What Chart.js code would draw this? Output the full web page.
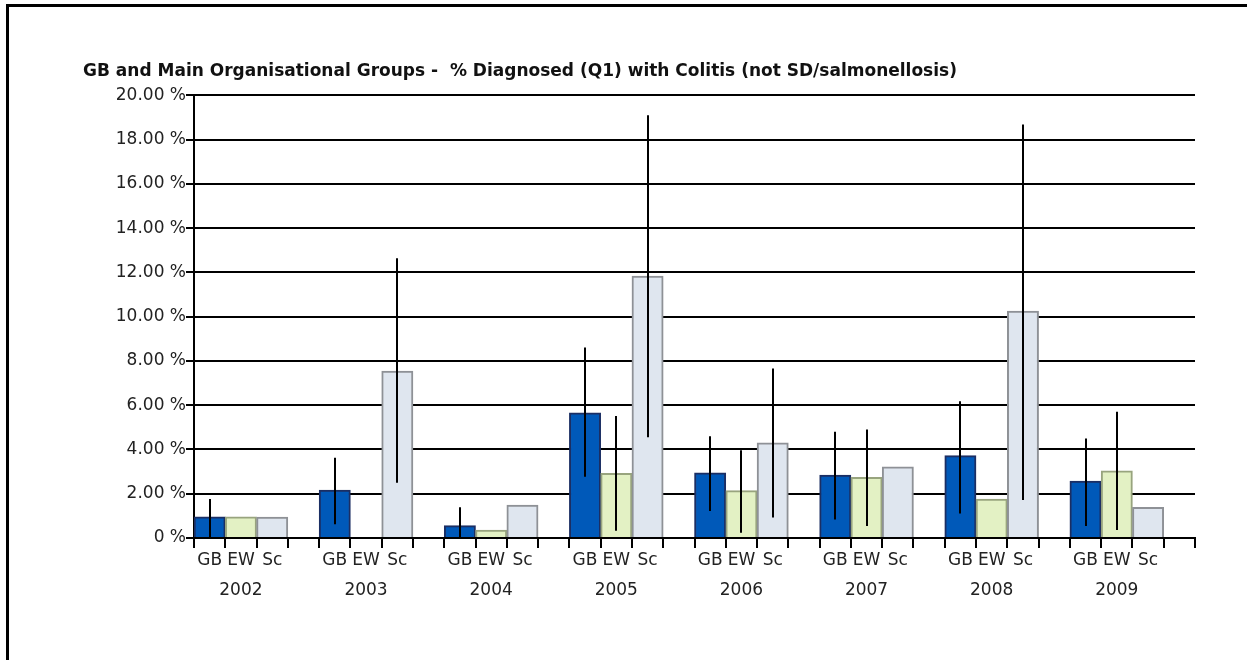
<!DOCTYPE html>
<html>
<head>
<meta charset="utf-8">
<script src="https://cdn.jsdelivr.net/npm/chart.js@4"></script>
<style>
  html, body { margin: 0; padding: 0; background: #fff; }
  #wrap { position: relative; width: 1247px; height: 660px; }
  #frame {
    position: absolute; left: 6px; top: 4px; right: 0; bottom: 0;
    border-top: 3px solid #000; border-left: 3px solid #000;
    pointer-events: none;
  }
</style>
</head>
<body>
<div id="wrap">
  <canvas id="colitis-chart" width="1247" height="660"></canvas>
  <div id="frame"></div>
</div>
<script>
const years = ["2002", "2003", "2004", "2005", "2006", "2007", "2008", "2009"];
const groups = ["GB", "EW", "Sc"];

// % diagnosed
const gbValues = [0.96, 2.17, 0.56, 5.66, 2.95, 2.84, 3.72, 2.57];
const ewValues = [0.96, null, 0.36, 2.92, 2.14, 2.74, 1.76, 3.04];
const scValues = [0.95, 7.54, 1.49, 11.83, 4.30, 3.22, 10.25, 1.39];

// error bar ends (null = no error bar)
const gbLow = [0.0, 0.62, 0.0, 2.77, 1.22, 0.84, 1.11, 0.54];
const gbHigh = [1.76, 3.63, 1.39, 8.61, 4.60, 4.80, 6.18, 4.50];
const ewLow = [null, null, null, 0.33, 0.24, 0.54, null, 0.36];
const ewHigh = [null, null, null, 5.51, 3.97, 4.90, null, 5.70];
const scLow = [null, 2.50, null, 4.55, 0.93, null, 1.72, null];
const scHigh = [null, 12.64, null, 19.10, 7.66, null, 18.69, null];

const yTicks = [0, 2, 4, 6, 8, 10, 12, 14, 16, 18, 20];

const fills = ["#0059b9", "#e3f1c4", "#dfe6ef"];
const borders = ["#1b2e63", "#98a47e", "#8e9196"];

// each year = GB, EW, Sc and one empty slot
const labels = [];
const values = [];
const lows = [];
const highs = [];
const bg = [];
const bc = [];
const series = [gbValues, ewValues, scValues];
const seriesLow = [gbLow, ewLow, scLow];
const seriesHigh = [gbHigh, ewHigh, scHigh];
years.forEach(function (year, y) {
  for (let g = 0; g < 3; g++) {
    labels.push(g === 1 ? [groups[g], year] : groups[g]);
    values.push(series[g][y]);
    lows.push(seriesLow[g][y]);
    highs.push(seriesHigh[g][y]);
    bg.push(fills[g]);
    bc.push(borders[g]);
  }
  labels.push("");
  values.push(null);
  lows.push(null);
  highs.push(null);
  bg.push("#fff");
  bc.push("#fff");
});

const errorBars = {
  id: "errorBars",
  afterDatasetsDraw(chart) {
    const meta = chart.getDatasetMeta(0);
    const yScale = chart.scales.y;
    const ctx = chart.ctx;
    ctx.save();
    ctx.strokeStyle = "#000";
    ctx.lineWidth = 2;
    meta.data.forEach(function (bar, i) {
      if (lows[i] === null || highs[i] === null) return;
      const x = Math.round(bar.x);
      ctx.beginPath();
      ctx.moveTo(x, yScale.getPixelForValue(highs[i]));
      ctx.lineTo(x, yScale.getPixelForValue(lows[i]));
      ctx.stroke();
    });
    ctx.restore();
  },
};

Chart.defaults.font.family = "'DejaVu Sans', sans-serif";
Chart.defaults.font.size = 17;
Chart.defaults.color = "#222";

new Chart(document.getElementById("colitis-chart"), {
  type: "bar",
  data: {
    labels: labels,
    datasets: [
      {
        data: values,
        backgroundColor: bg,
        borderColor: bc,
        borderWidth: 2,
        barPercentage: 1,
        categoryPercentage: 1,
      },
    ],
  },
  options: {
    responsive: false,
    animation: false,
    devicePixelRatio: 1,
    layout: { padding: { left: 83, right: 52, top: 0, bottom: 0 } },
    plugins: {
      legend: { display: false },
      tooltip: { enabled: false },
      title: {
        display: true,
        align: "start",
        text: "GB and Main Organisational Groups -  % Diagnosed (Q1) with Colitis (not SD/salmonellosis)",
        color: "#111",
        font: { size: 17, weight: "bold", lineHeight: 1.2 },
        padding: { top: 61, bottom: 14 },
      },
    },
    scales: {
      x: {
        grid: {
          drawOnChartArea: false,
          drawTicks: true,
          tickLength: 10,
          color: "#000",
          lineWidth: 2,
        },
        border: { color: "#000", width: 2 },
        ticks: {
          autoSkip: false,
          maxRotation: 0,
          padding: -2,
          font: { size: 17, lineHeight: 1.76 },
        },
        afterFit(scale) {
          scale.height = 122;
        },
      },
      y: {
        min: 0,
        max: 20,
        afterBuildTicks(scale) {
          scale.ticks = yTicks.map((v) => ({ value: v }));
        },
        grid: { color: "#000", lineWidth: 2, tickLength: 8 },
        border: { color: "#000", width: 2 },
        ticks: {
          padding: 0,
          font: { size: 17 },
          callback: (v) => (v === 0 ? "0 %" : v.toFixed(2) + " %"),
        },
        afterFit(scale) {
          scale.width = 111;
        },
      },
    },
  },
  plugins: [errorBars],
});
</script>
</body>
</html>
